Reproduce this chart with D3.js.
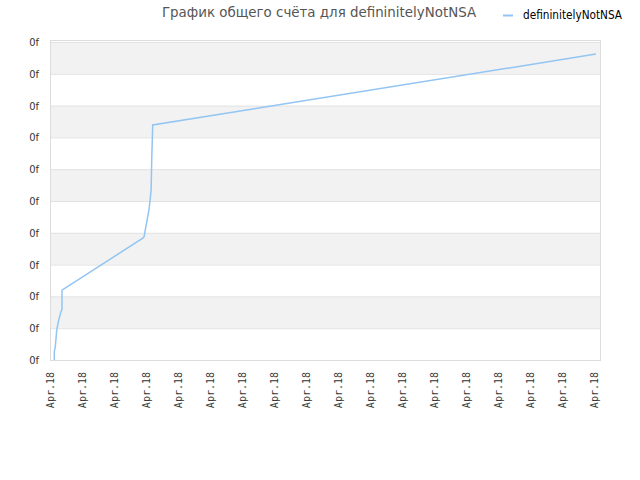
<!DOCTYPE html>
<html><head><meta charset="utf-8">
<script src="https://cdn.jsdelivr.net/npm/d3@7"></script>
<style>body{margin:0;background:#fff;}</style>
</head><body>
<svg id="c" width="640" height="480"></svg>
<script>
const title = "График общего счёта для defininitelyNotNSA";
const seriesName = "defininitelyNotNSA";
const xTickLabels = ["Apr.18","Apr.18","Apr.18","Apr.18","Apr.18","Apr.18","Apr.18","Apr.18","Apr.18","Apr.18","Apr.18","Apr.18","Apr.18","Apr.18","Apr.18","Apr.18","Apr.18","Apr.18"];
const yTickLabels = ["0f","0f","0f","0f","0f","0f","0f","0f","0f","0f","0f"];
const xs = [0.134,0.134,0.166,0.21,0.26,0.34,0.375,0.375,2.9,2.94,3.1,3.16,3.18,3.21,17.06];
const ys = [0,0.26,0.42,0.94,1.2,1.52,1.59,2.2,3.83,3.88,4.77,5.35,6.34,7.39,9.62];

const svg = d3.select("#c");
const L=50,R=600,T=42,B=360;
const x = d3.scaleLinear().domain([0,550/32]).range([L,R]);
const y = d3.scaleLinear().domain([0,10]).range([B,T]);

// bands
const bands = d3.range(10);
svg.append("g").selectAll("rect").data(bands).join("rect")
  .attr("x",L).attr("width",R-L)
  .attr("y",d=>y(d+1)).attr("height",d=>y(d)-y(d+1))
  .attr("fill",d=>d%2===0?"#fff":"#f2f2f2");
// gridlines
svg.append("g").selectAll("line").data(d3.range(11)).join("line")
  .attr("x1",L).attr("x2",R).attr("y1",d=>y(d)+0.5).attr("y2",d=>y(d)+0.5)
  .attr("stroke","#e2e2e2");
svg.append("rect").attr("x",L+0.5).attr("y",T-1.5).attr("width",R-L).attr("height",B-T+2)
  .attr("fill","none").attr("stroke","#dcdcdc");

// y labels
const yAxis = d3.axisLeft(y).tickValues(d3.range(11)).tickFormat((d,i)=>yTickLabels[i]).tickSize(0).tickPadding(11);
const gy = svg.append("g").attr("transform",`translate(${L},0)`).call(yAxis);
gy.select(".domain").remove();
gy.selectAll("text").attr("font-family","DejaVu Sans Condensed, DejaVu Sans").attr("font-size",11).attr("fill","#333");

// x labels
const xAxis = d3.axisBottom(x).tickValues(d3.range(18)).tickFormat((d,i)=>xTickLabels[i]).tickSize(0);
const gx = svg.append("g").attr("transform",`translate(0,${B})`).call(xAxis);
gx.select(".domain").remove();
gx.selectAll("text").attr("font-family","DejaVu Sans Mono").attr("font-size",10).attr("fill","#333")
  .attr("text-anchor","end").attr("dy","0.35em").attr("transform","translate(0,12) rotate(-90)").attr("x",0).attr("y",0);

// line
const line = d3.line().x((d,i)=>x(xs[i])).y((d,i)=>y(ys[i]));
svg.append("path").datum(xs).attr("d",line).attr("fill","none").attr("stroke","#92c5f3").attr("stroke-width",1.5);

// title
svg.append("text").attr("x",319).attr("y",17).attr("text-anchor","middle")
  .attr("font-family","DejaVu Sans").attr("font-size",13.4).attr("fill","#555").text(title);
// legend
svg.append("line").attr("x1",503).attr("x2",513).attr("y1",15.5).attr("y2",15.5).attr("stroke","#92c5f3").attr("stroke-width",2);
svg.append("text").attr("x",523).attr("y",19).attr("font-family","DejaVu Sans Condensed, DejaVu Sans").attr("font-size",11.7).attr("fill","#000").text(seriesName);
</script>
</body></html>
